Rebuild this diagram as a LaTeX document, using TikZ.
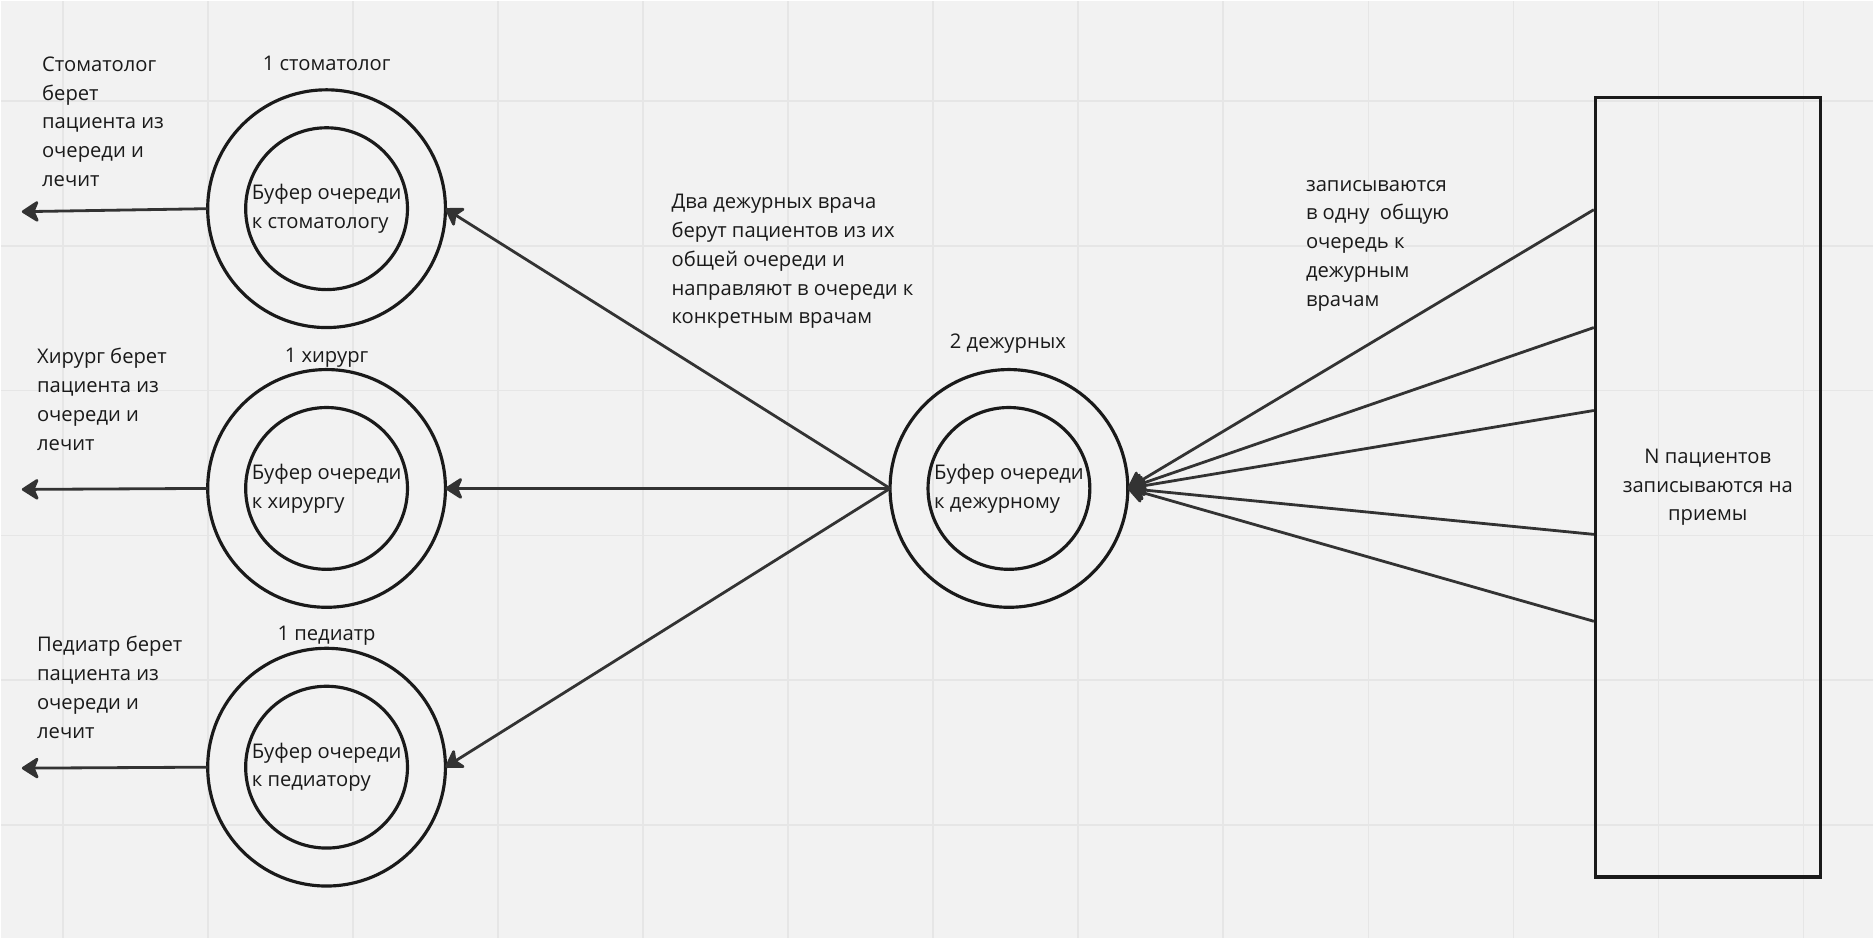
\documentclass[tikz,border=0pt]{standalone}
\usepackage{fontspec}
\setmainfont{Open Sans}
\usetikzlibrary{arrows.meta}
\definecolor{bg}{HTML}{F2F2F2}
\definecolor{gridline}{HTML}{E6E6E6}
\definecolor{ink}{HTML}{1A1A1A}
\definecolor{wire}{HTML}{333333}
\tikzset{
  ring/.style={circle,draw=ink,line width=1.8pt,minimum size=4.76cm,inner sep=0pt,outer sep=0pt},
  core/.style={circle,draw=ink,line width=1.8pt,minimum size=3.24cm,inner sep=0pt,outer sep=0pt,
    align=left,text=ink,font=\fontsize{11.5}{16.4}\selectfont},
  note/.style={align=left,anchor=west,inner sep=0pt,text=ink,font=\fontsize{11.5}{16.4}\selectfont},
  title/.style={inner sep=0pt,text=ink,font=\fontsize{11.5}{16.4}\selectfont},
  box/.style={draw=ink,line width=1.8pt,minimum width=4.5cm,minimum height=15.6cm,inner sep=0pt,
    align=center,text=ink,font=\fontsize{11.5}{16.4}\selectfont},
  flow/.style={draw=wire,line width=1.6pt,-{Stealth[length=11pt,width=14pt,inset=3pt,round]}}
}
\begin{document}
\begin{tikzpicture}[x=0.02cm,y=-0.02cm]
\fill[bg] (0,0) rectangle (1874,938);
\foreach \i in {0,...,12} \draw[gridline,line width=1pt] (62+145.2*\i,0) -- (62+145.2*\i,938);
\foreach \j in {0,...,5} \draw[gridline,line width=1pt] (0,100+145*\j) -- (1874,100+145*\j);

\node[ring] (stom) at (326,208) {};
\node[core] (stomin) at (326,208) {Буфер очереди\\к стоматологу};
\node[ring] (hir) at (326,488) {};
\node[core] (hirin) at (326,488) {Буфер очереди\\к хирургу\phantom{логу}};
\node[ring] (ped) at (326,767) {};
\node[core] (pedin) at (326,767) {Буфер очереди\\к педиатору\phantom{у}};
\node[ring] (duty) at (1009,488) {};
\node[core] (dutyin) at (1009,488) {Буфер очереди\\к дежурному};
\node[box] (patients) at (1708.5,487) {N пациентов\\записываются на\\приемы};

\node[title] (stomlabel) at (326,63) {1 стоматолог};
\node[title] (hirlabel) at (326,357) {1 хирург};
\node[title] (pedlabel) at (326,635) {1 педиатр};
\node[title] (dutylabel) at (1008,343) {2 дежурных};

\node[note] (stomnote) at (41,121) {Стоматолог\\берет\\пациента из\\очереди и\\лечит};
\node[note] (hirnote) at (36,399) {Хирург берет\\пациента из\\очереди и\\лечит};
\node[note] (pednote) at (36,687) {Педиатр берет\\пациента из\\очереди и\\лечит};
\node[note] (dutynote) at (671,261) {Два дежурных врача\\берут пациентов из их\\общей очереди и\\направляют в очереди к\\конкретным врачам};
\node[note] (signnote) at (1306,245) {записываются\\в одну\ \ общую\\очередь к\\дежурным\\врачам};

\coordinate (stomout) at (21,211);
\coordinate (hirout) at (21,489);
\coordinate (pedout) at (21,768);
\draw[flow] (stom.west) -- (stomout);
\draw[flow] (hir.west) -- (hirout);
\draw[flow] (ped.west) -- (pedout);

\draw[flow] (duty.west) -- (stom.east);
\draw[flow] (duty.west) -- (hir.east);
\draw[flow] (duty.west) -- (ped.east);

\foreach \y in {209,327,410,534,621}
  \draw[flow] (patients.west |- 0,\y) -- (duty.east);
\end{tikzpicture}
\end{document}
